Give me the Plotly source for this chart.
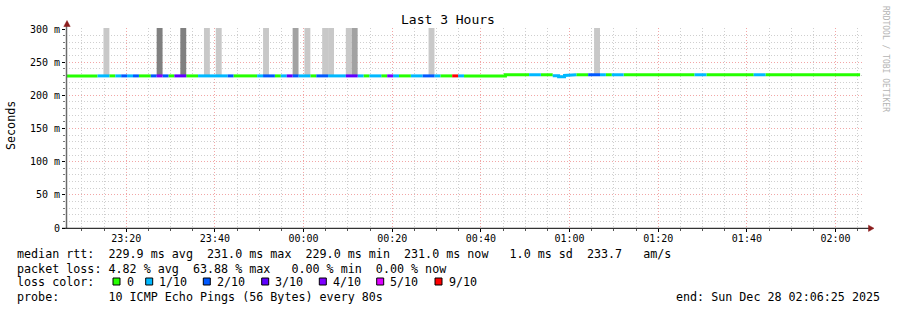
import datetime as dt
import plotly.graph_objects as go

# ---------------- data ----------------
sample_start = dt.datetime(2025, 12, 27, 23, 5, 32)   # start of first 80 s sample
step_s = 80
graph_start = dt.datetime(2025, 12, 27, 23, 6, 25)
graph_end = dt.datetime(2025, 12, 28, 2, 6, 25)

# lost pings (out of 10) per sample
loss = [
    0, 0, 0, 0, 0, 0, 1, 1, 0, 1, 2, 1, 2, 0, 0,
    2, 4, 2, 0, 3, 3, 0, 0, 1, 1, 1, 1, 1, 2, 0,
    0, 0, 0, 1, 2, 2, 0, 1, 3, 2, 1, 1, 0, 2, 2,
    1, 1, 1, 3, 3, 1, 0, 1, 1, 0, 4, 1, 0, 0, 1,
    1, 2, 2, 1, 0, 0, 9, 1, 0, 0, 0, 0, 0, 0, 0,
    0, 0, 0, 0, 1, 1, 0, 0, 1, 1, 1, 1, 0, 0, 2,
    2, 1, 0, 1, 1, 0, 0, 0, 0, 0, 0, 0, 0, 0, 0,
    0, 0, 1, 1, 0, 0, 0, 0, 0, 0, 0, 0, 1, 1, 0,
    0, 0, 0, 0, 0, 0, 0, 0, 0, 0, 0, 0, 0, 0, 0,
]

# median rtt (ms) per sample
median_ms = [
    229.3, 229.3, 229.3, 229.3, 229.3, 229.3, 229.3, 229.3, 229.3, 229.3, 229.3, 229.3, 229.3, 229.3, 229.3,
    229.3, 229.3, 229.3, 229.3, 229.3, 229.3, 229.3, 229.3, 229.3, 229.3, 229.3, 229.3, 229.3, 229.3, 229.3,
    229.3, 229.3, 229.3, 229.3, 229.3, 229.3, 229.3, 229.3, 229.3, 229.3, 229.3, 229.3, 229.3, 229.3, 229.3,
    229.3, 229.3, 229.3, 229.3, 229.3, 229.3, 229.3, 229.3, 229.3, 229.3, 229.3, 229.3, 229.3, 229.3, 229.3,
    229.3, 229.3, 229.3, 229.3, 229.3, 229.3, 229.3, 229.3, 229.3, 229.3, 229.3, 229.3, 229.3, 229.3, 229.3,
    231.0, 231.0, 231.0, 231.0, 231.0, 231.0, 231.0, 231.0, 229.6, 228.0, 230.0, 231.0, 231.0, 231.0, 231.0,
    231.0, 231.0, 231.0, 231.0, 231.0, 231.0, 231.0, 231.0, 231.0, 231.0, 231.0, 231.0, 231.0, 231.0, 231.0,
    231.0, 231.0, 231.0, 231.0, 231.0, 231.0, 231.0, 231.0, 231.0, 231.0, 231.0, 231.0, 231.0, 231.0, 231.0,
    231.0, 231.0, 231.0, 231.0, 231.0, 231.0, 231.0, 231.0, 231.0, 231.0, 231.0, 231.0, 231.0, 231.0, 231.0,
]

# smoke (rtt spread) samples reaching above the graph top
smoke_idx = [7, 16, 20, 24, 26, 34, 39, 41, 44, 45, 48, 49, 62, 90]
smoke_top_ms = [340, 360, 360, 340, 340, 340, 350, 340, 340, 340, 340, 350, 340, 340]
smoke_density = ["low", "high", "high", "low", "low", "low", "mid", "low", "low", "low", "low", "mid", "low", "low"]

loss_levels = [0, 1, 2, 3, 4, 5, 9]
loss_labels = ["0", "1/10", "2/10", "3/10", "4/10", "5/10", "9/10"]

y_ticks = [0, 50, 100, 150, 200, 250, 300]
y_tick_text = ["0", "50 m", "100 m", "150 m", "200 m", "250 m", "300 m"]

rtt_avg, rtt_max, rtt_min, rtt_now, rtt_sd, rtt_ams = 229.9, 231.0, 229.0, 231.0, 1.0, 233.7
loss_avg, loss_max, loss_min, loss_now = 4.82, 63.88, 0.00, 0.00
probe_text = "10 ICMP Echo Pings (56 Bytes) every 80s"
end_text = "end: Sun Dec 28 02:06:25 2025"
title_text = "Last 3 Hours"

# ---------------- style ----------------
loss_color = {0: "#26ff00", 1: "#00b8ff", 2: "#0059ff", 3: "#5e00ff",
              4: "#7e00ff", 5: "#dd00ff", 9: "#ff0000"}
smoke_color = {"low": "#c8c8c8", "mid": "#a2a2a2", "high": "#808080"}
MONO = "DejaVu Sans Mono"

W_PX, H_PX = 897, 310
L, T, PW, PH = 66, 28, 798, 200


def px(x):
    return (x - L) / PW


def py(y):
    return (T + PH - y) / PH


def nb(s):
    return s.replace(" ", "\u00a0")


step = dt.timedelta(seconds=step_s)
t_start = [sample_start + i * step for i in range(len(loss))]

fig = go.Figure()

# smoke bars
fig.add_trace(go.Bar(
    x=[t_start[i] + step / 2 for i in smoke_idx],
    base=[median_ms[i] for i in smoke_idx],
    y=[top - median_ms[i] for top, i in zip(smoke_top_ms, smoke_idx)],
    width=step_s * 1000,
    marker=dict(color=[smoke_color[d] for d in smoke_density], line=dict(width=0)),
    hoverinfo="skip", showlegend=False,
))

# median line coloured by loss
for lv in loss_levels:
    xs, ys = [], []
    n = len(loss)
    for i in range(n):
        if loss[i] != lv:
            continue
        xs += [t_start[i], t_start[i] + step]
        ys += [median_ms[i], median_ms[i]]
        if not (i + 1 < n and loss[i + 1] == lv):
            xs.append(None)
            ys.append(None)
    if xs:
        fig.add_trace(go.Scatter(x=xs, y=ys, mode="lines",
                                 line=dict(color=loss_color[lv], width=3),
                                 hoverinfo="skip", showlegend=False))

grid_major = "#f2a6a6"
grid_minor = "#cfcfcf"
dash = "1px,2px"

fig.update_layout(
    width=W_PX, height=H_PX,
    margin=dict(l=L, r=W_PX - L - PW, t=T, b=H_PX - T - PH, pad=0),
    paper_bgcolor="white", plot_bgcolor="white",
    showlegend=False, barmode="overlay",
    font=dict(family=MONO, size=10, color="black"),
    xaxis=dict(
        type="date", range=[graph_start, graph_end],
        tick0="2025-12-27 23:20:00", dtick=20 * 60 * 1000, tickformat="%H:%M",
        showgrid=True, gridcolor=grid_major, gridwidth=1, griddash=dash,
        ticks="outside", ticklen=3, tickcolor="black", ticklabelstandoff=-2,
        minor=dict(dtick=5 * 60 * 1000, showgrid=True, gridcolor=grid_minor,
                   griddash=dash, ticks="outside", ticklen=2, tickcolor="#555"),
        showline=False, zeroline=False, fixedrange=True,
        tickfont=dict(family=MONO, size=10, color="black"),
    ),
    yaxis=dict(
        range=[0, 301.5], tickmode="array", tickvals=y_ticks, ticktext=y_tick_text,
        showgrid=True, gridcolor=grid_major, gridwidth=1, griddash=dash,
        ticks="outside", ticklen=3, tickcolor="black",
        minor=dict(tickmode="linear", tick0=0, dtick=10, showgrid=True,
                   gridcolor=grid_minor, griddash=dash, ticks="outside",
                   ticklen=2, tickcolor="#777"),
        showline=False, zeroline=False, fixedrange=True,
        tickfont=dict(family=MONO, size=10, color="black"),
    ),
)

shapes = []
# axes lines and arrows
shapes.append(dict(type="line", xref="paper", yref="paper",
                   x0=px(66.5), x1=px(66.5), y0=py(228), y1=py(25),
                   line=dict(color="#6a6a6a", width=1.5)))
shapes.append(dict(type="line", xref="paper", yref="paper",
                   x0=px(62), x1=px(870), y0=py(228.3), y1=py(228.3),
                   line=dict(color="black", width=1)))
arrow_col = "#8b1c1c"
shapes.append(dict(type="path", xref="paper", yref="paper",
                   path=f"M {px(67)},{py(20.5)} L {px(63.8)},{py(26.5)} L {px(70.2)},{py(26.5)} Z",
                   fillcolor=arrow_col, line=dict(color=arrow_col, width=0.5)))
shapes.append(dict(type="path", xref="paper", yref="paper",
                   path=f"M {px(874)},{py(228.3)} L {px(868.5)},{py(225.2)} L {px(868.5)},{py(231.4)} Z",
                   fillcolor=arrow_col, line=dict(color=arrow_col, width=0.5)))

# legend squares
square_px = [113, 145.7, 203.3, 261.7, 319.3, 376.7, 435]
label_px = [125.5, 158.2, 215.8, 274.2, 331.8, 389.2, 447.5]
for x0, lv in zip(square_px, loss_levels):
    shapes.append(dict(type="rect", xref="paper", yref="paper",
                       x0=px(x0), x1=px(x0 + 7), y0=py(285), y1=py(278),
                       fillcolor=loss_color[lv], line=dict(color="black", width=1)))

ann = []
LEG = 11.7


def text(x, y, s, size=LEG, xanchor="left", angle=0, color="black"):
    ann.append(dict(xref="paper", yref="paper", x=px(x), y=py(y), text=nb(s),
                    showarrow=False, xanchor=xanchor, yanchor="middle",
                    textangle=angle, borderpad=0,
                    font=dict(family=MONO, size=size, color=color)))


text(448, 19, title_text, size=13, xanchor="center")
text(11, 126, "Seconds", size=11.7, xanchor="center", angle=-90)
text(886, 59, "RRDTOOL / TOBI OETIKER", size=8, xanchor="center", angle=90, color="#b4b4b4")

line1 = (f"median rtt:  {rtt_avg:.1f} ms avg  {rtt_max:.1f} ms max  {rtt_min:.1f} ms min  "
         f"{rtt_now:.1f} ms now   {rtt_sd:.1f} ms sd  {rtt_ams:.1f}   am/s")
line2 = (f"packet loss: {loss_avg:.2f} % avg  {loss_max:.2f} % max   {loss_min:.2f} % min  "
         f"{loss_now:.2f} % now")
text(16, 254, line1)
text(16, 268.5, line2)
text(16, 282, "loss color:")
for xl, lab in zip(label_px, loss_labels):
    text(xl, 282, lab)
text(16, 296.5, "probe:       " + probe_text)
text(880.5, 296.5, end_text, xanchor="right")

fig.update_layout(shapes=shapes, annotations=ann)
fig.write_html("out.html")
